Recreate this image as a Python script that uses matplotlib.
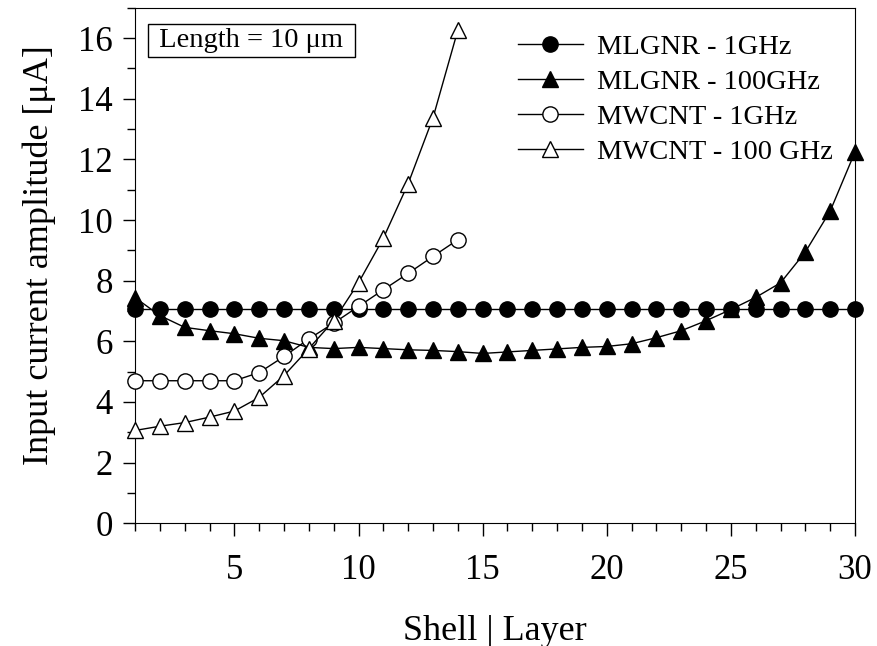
import numpy as np
import matplotlib.pyplot as plt
from matplotlib.ticker import MultipleLocator

plt.rcParams['font.family'] = ['Liberation Serif', 'DejaVu Serif']

layers = np.arange(1, 31)
mlgnr_1ghz = [7.05] * 30
mlgnr_100ghz = [7.44, 6.85, 6.46, 6.35, 6.25, 6.1, 6.02, 5.8, 5.76, 5.8,
                5.76, 5.72, 5.7, 5.66, 5.6, 5.65, 5.7, 5.75, 5.8, 5.83,
                5.92, 6.12, 6.35, 6.68, 7.05, 7.45, 7.93, 8.95, 10.3, 12.25]
shells = np.arange(1, 15)
mwcnt_1ghz = [4.7, 4.7, 4.7, 4.7, 4.7, 4.97, 5.5, 6.08, 6.6, 7.15,
              7.7, 8.24, 8.8, 9.35]
mwcnt_100ghz = [3.06, 3.2, 3.32, 3.5, 3.7, 4.15, 4.87, 5.76, 6.68, 7.93,
                9.4, 11.2, 13.37, 16.26]

fig = plt.figure(figsize=(8.77, 6.46), dpi=100)
ax = fig.add_axes([0.154, 0.19, 0.821, 0.798])

ms = 11
ax.plot(layers, mlgnr_1ghz, '-o', color='black', lw=1, ms=ms,
        mfc='black', mec='black', label='MLGNR - 1GHz', clip_on=False, zorder=3)
ax.plot(layers, mlgnr_100ghz, '-^', color='black', lw=1, ms=ms,
        mfc='black', mec='black', label='MLGNR - 100GHz', clip_on=False, zorder=3)
ax.plot(shells, mwcnt_1ghz, '-o', color='black', lw=1, ms=ms,
        mfc='white', mec='black', label='MWCNT - 1GHz', clip_on=False, zorder=4)
ax.plot(shells, mwcnt_100ghz, '-^', color='black', lw=1, ms=ms,
        mfc='white', mec='black', label='MWCNT - 100 GHz', clip_on=False, zorder=4)

ax.set_xlim(1, 30)
ax.set_ylim(0, 17)
ax.set_xticks([5, 10, 15, 20, 25, 30])
ax.xaxis.set_minor_locator(MultipleLocator(1))
ax.set_yticks(np.arange(0, 17, 2))
ax.yaxis.set_minor_locator(MultipleLocator(1))
ax.tick_params(which='both', direction='out', labelsize=25, width=1)
ax.tick_params(which='major', length=9)
ax.tick_params(which='minor', length=6)
ax.tick_params(axis='x', pad=13)
ax.tick_params(axis='y', pad=7)

ax.set_xlabel('Shell | Layer', fontsize=26, labelpad=20)
ax.set_ylabel('Input current amplitude [μA]', fontsize=26)
ax.yaxis.set_label_coords(-0.110, 0.52)

# info box, spaces give the wider side padding
ax.text(0.024, 0.961, ' Length = 10 μm ', transform=ax.transAxes,
        fontsize=20.5, va='top', ha='left',
        bbox=dict(boxstyle='square,pad=0.15', fc='white', ec='black', lw=1))

ax.legend(loc='upper left', bbox_to_anchor=(0.574, 0.97), bbox_transform=fig.transFigure,
          frameon=False, fontsize=20.5, handlelength=2.28, borderpad=0,
          labelspacing=0.32, handletextpad=0.5)

fig.savefig('out.png', dpi=100)
